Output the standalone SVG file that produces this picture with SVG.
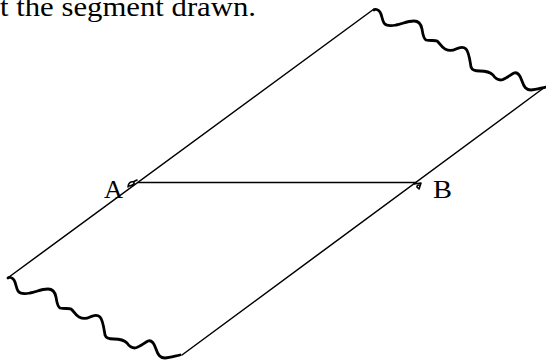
<svg xmlns="http://www.w3.org/2000/svg" xmlns:xlink="http://www.w3.org/1999/xlink" width="546" height="362" viewBox="0 0 546 362">
  <style>
    .ln { stroke: #000; stroke-width: 1.5; fill: none; stroke-linecap: round; }
    .wave { stroke: #000; stroke-width: 2.8; fill: none; stroke-linejoin: round; stroke-linecap: round; }
    .mark { stroke: #000; stroke-width: 1.6; fill: none; stroke-linejoin: round; stroke-linecap: round; }
    .lbl { font-family: "Liberation Serif", "Times New Roman", serif; fill: #000; }
  </style>
  <defs>
    <path id="wavePath" class="wave" d="M0,1 C1,0 4,0 6,3 C8,6 8,11 10,14 C12,17 17,17 22,16 C28,15 33,12 40,12 C44,12 47,15 48,20 C49,25 49,29 52,31 C56,32 61,31 63,32 C66,34 67,38 71,40 C75,42 78,42 82,40 C86,38 90,38 92,40 C95,43 96,52 97,58 C98,61 100,62 106,62 C112,62 116,63 119,66 C121,69 123,71 127,71 C132,70 136,66 140,64 C143,63 146,66 148,72 C150,78 152,81 157,81 C162,81 167,79 172,78"/>
  </defs>
  <text class="lbl" x="0" y="16" font-size="28" textLength="256" lengthAdjust="spacingAndGlyphs">t the segment drawn.</text>
  <g id="connectors">
    <line id="lineLeft" class="ln" x1="9" y1="277" x2="374" y2="9"/>
    <line id="lineRight" class="ln" x1="182" y1="355" x2="545" y2="87"/>
    <line id="segmentAB" class="ln" x1="138" y1="182.5" x2="416" y2="182.5"/>
  </g>
  <g id="waveTop">
    <use xlink:href="#wavePath" href="#wavePath" transform="translate(374,9)"/>
  </g>
  <g id="waveBottom">
    <use xlink:href="#wavePath" href="#wavePath" transform="translate(8,277)"/>
  </g>
  <g id="nodeA">
    <path class="mark" d="M128,187 C128,183 131,181 134,182 C135,184 132,186 129,186 M133,182 L137,180"/>
    <text class="lbl" x="104" y="198" font-size="26" textLength="19" lengthAdjust="spacingAndGlyphs">A</text>
  </g>
  <g id="nodeB">
    <path class="mark" d="M414,184 L421,183 L419,189 M419,185 C417,185 416,187 418,188"/>
    <text class="lbl" x="433" y="198" font-size="26" textLength="19" lengthAdjust="spacingAndGlyphs">B</text>
  </g>
</svg>
